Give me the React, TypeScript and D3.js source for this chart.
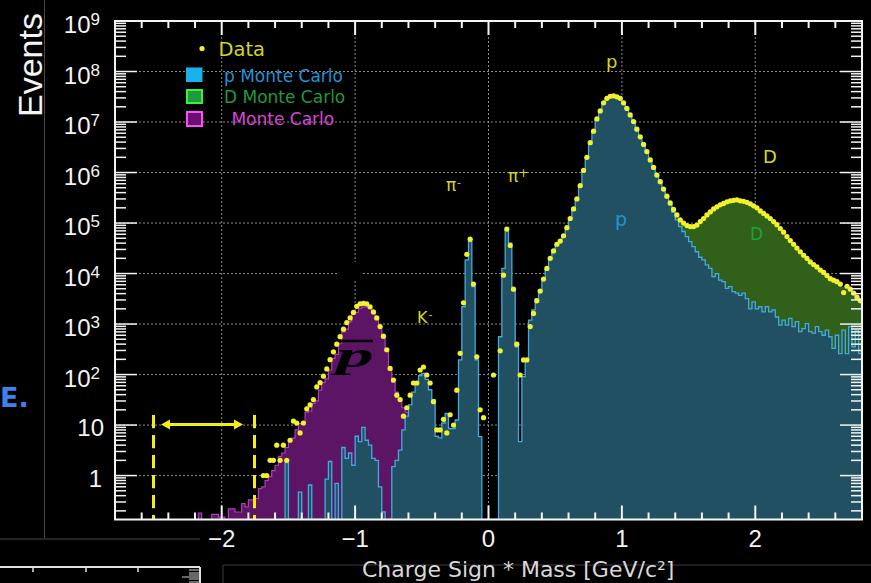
import React, { useEffect } from 'react';
import * as d3 from 'd3';

// ---- axes ----
const X_DOMAIN: [number, number] = [-2.8, 2.8];
const Y_DOMAIN: [number, number] = [0.135, 1e9];
const BIN_WIDTH = 0.025;
const xMajorTicks = [-2, -1, 0, 1, 2];
const xTickLabels = ['\u22122', '\u22121', '0', '1', '2'];
const yDecades = [0, 1, 2, 3, 4, 5, 6, 7, 8, 9];

// ---- data (events per 0.025 GeV/c^2 bin) ----
// first bin index counted from -2.8
const dataFirstBin = 44;
const dataEvents = [
  1, 1, 2, 2, 4, 2, 4, 2, 5, 12,
  11, 7, 11, 21, 25, 32, 57, 69, 93, 129,
  197, 282, 400, 562, 790, 1070, 1320, 1700, 2240, 2510,
  2570, 2510, 2190, 1740, 1320, 890, 575, 310, 132, 78,
  39, 32, 15, 22, 39, 68, 68, 123, 141, 98,
  68, 29, 8, 8, 13, 7, 16, 10, 49, 263,
  2630, 24000, 48000, 6200, 224, 20, 14, 0, 0, 98,
  0, 295, 9300, 76000, 36000, 4900, 400, 98, 195, 195,
  890, 1620, 2880, 4500, 7760, 12600, 20000, 28000, 38000, 44000,
  56000, 81000, 123000, 190000, 300000, 550000, 1.1e6, 2.0e6, 3.9e6, 6.6e6,
  1.15e7, 1.66e7, 2.4e7, 2.95e7, 3.24e7, 3.3e7, 3.16e7, 2.95e7, 2.4e7, 1.86e7,
  1.38e7, 1.02e7, 7.2e6, 5.1e6, 3.6e6, 2.6e6, 1.78e6, 1.26e6, 890000, 660000,
  470000, 340000, 250000, 186000, 145000, 115000, 100000, 89000, 85000, 85000,
  91000, 107000, 123000, 145000, 166000, 190000, 209000, 229000, 245000, 263000,
  275000, 282000, 288000, 275000, 269000, 257000, 240000, 219000, 200000, 174000,
  155000, 138000, 123000, 107000, 93000, 78000, 66000, 54000, 45000, 38000,
  32000, 27000, 23000, 20000, 17000, 15100, 13500, 11700, 10500, 9100,
  7900, 7400, 6900, 6200, 4200, 5600, 4900, 4100, 3400, 2900,
];

const pbarFirstBin = 25;
const pbarMC = [
  0.18, 0, 0, 0, 0.17, 0.17, 0.15, 0.15, 0, 0.22,
  0.22, 0.19, 0.19, 0.28, 0.24, 0.33, 0.33, 0.35, 0.55, 0.6,
  0.8, 0.95, 1.25, 1.6, 2.4, 2.8, 3.6, 4.7, 5.5, 8,
  10.7, 11.5, 18, 19, 27, 30, 49, 70, 82, 123,
  210, 250, 417, 700, 790, 1120, 1550, 1700, 2040, 2190,
  2190, 2040, 1650, 1250, 850, 520, 290, 125, 70, 45,
  30, 22, 18, 6, 1.6,
];

const pFirstBin = 51;
const pMC = [
  1.8, 0, 0, 0, 0.47, 0, 0, 0.65, 0, 0,
  0, 0, 0.85, 1.9, 0, 0.7, 0, 3.6, 2.2, 2.8,
  1.6, 6.0, 4.7, 9, 5, 4.0, 2.2, 2.0, 0.6, 0.19,
  0, 0, 1.5, 2.0, 3.2, 8, 15, 25, 45, 70,
  95, 105, 80, 50, 32, 6, 5.6, 11, 17, 8.5,
  8.5, 12.6, 195, 2200, 18600, 42700, 5500, 195, 5.9, 0,
  0, 0, 0, 0, 560, 12600, 72000, 40000, 4700, 355,
  4.7, 91, 195, 1200, 1900, 3200, 4700, 7500, 12000, 19000,
  27000, 36000, 42000, 54000, 78000, 118000, 182000, 290000, 530000, 1.05e6,
  1.9e6, 3.7e6, 6.3e6, 1.1e7, 1.6e7, 2.3e7, 2.85e7, 3.1e7, 3.15e7, 3.05e7,
  2.85e7, 2.3e7, 1.8e7, 1.32e7, 9.8e6, 6.9e6, 4.9e6, 3.45e6, 2.5e6, 1.7e6,
  1.2e6, 850000, 630000, 450000, 318000, 230000, 162000, 115000, 85000, 68000,
  54000, 43000, 34000, 27000, 21000, 18600, 14800, 12600, 8700, 10000,
  7400, 6900, 5100, 5500, 4400, 4100, 3700, 4100, 3200, 2000,
  2750, 2000, 2200, 1740, 2200, 1740, 1900, 1380, 950, 1200,
  950, 1290, 890, 1120, 710, 810, 1020, 710, 660, 890,
  710, 600, 760, 560, 330, 600, 260, 760, 260, 890,
  355, 760, 260,
];

const dFirstBin = 164;
const dMC = [
  18000, 21000, 21000, 24000, 30000, 30000, 32000, 35000, 42000, 51000,
  64000, 86000, 104000, 130000, 153000, 181000, 199000, 222000, 238000, 258000,
  270000, 278000, 284000, 271000, 265000, 254000, 238000, 216000, 198000, 172000,
  153000, 136000, 121000, 105000, 92000, 77000, 65000, 53000, 44000, 37000,
  31000, 26300, 22200, 19000, 16300, 14400, 12600, 11000, 9900, 8300,
  7300, 7100, 6300, 5900, 4700, 5300, 4000, 3700, 2600, 2600,
];

const legendItems = ['Data', 'p Monte Carlo', 'D Monte Carlo', ' Monte Carlo'];

const COLORS = {
  bg: '#000000',
  teal: '#215063',
  tealLine: '#45aadb',
  purple: '#5c1465',
  purpleLine: '#b03cc0',
  green: '#30601a',
  data: '#f2f22a',
  yellowText: '#d6d61e',
  grid: '#8a8a8a',
};

const FRAME = { left: 115, right: 862, top: 21, bottom: 519.5 };

export default function App() {
  useEffect(() => {
    document.body.style.margin = '0';
    document.body.style.background = '#000';
  }, []);

  const x = d3.scaleLinear().domain(X_DOMAIN).range([FRAME.left, FRAME.right]);
  const y = d3.scaleLog().domain(Y_DOMAIN).range([FRAME.bottom, FRAME.top]);
  const yBottom = FRAME.bottom;
  const edge = (i: number) => x(X_DOMAIN[0] + BIN_WIDTH * i);
  const center = (i: number) => X_DOMAIN[0] + BIN_WIDTH * (i + 0.5);
  const yc = (v: number) => (v > Y_DOMAIN[0] ? y(v) : yBottom);

  const stepPaths = (first: number, vals: number[]) => {
    const p = d3.path();
    p.moveTo(edge(first), yBottom);
    vals.forEach((v, k) => {
      const yy = yc(v);
      p.lineTo(edge(first + k), yy);
      p.lineTo(edge(first + k + 1), yy);
    });
    p.lineTo(edge(first + vals.length), yBottom);
    const line = p.toString();
    return { line, area: line + 'Z' };
  };

  const pbarP = stepPaths(pbarFirstBin, pbarMC);
  const pP = stepPaths(pFirstBin, pMC);
  const dTotals = dMC.map((d, k) => d + pMC[dFirstBin - pFirstBin + k]);
  const dP = stepPaths(dFirstBin, dTotals);

  const xMinor = d3.range(-2.6, 2.8, 0.2).filter((v) => Math.abs(v - Math.round(v)) > 0.05);
  const yMinor: number[] = [];
  for (let d = -1; d <= 8; d++) for (let m = 2; m <= 9; m++) {
    const v = m * Math.pow(10, d);
    if (v > Y_DOMAIN[0] && v < Y_DOMAIN[1]) yMinor.push(v);
  }

  const tickFont = 'Liberation Sans, Arial, Helvetica, sans-serif';
  const sans = 'DejaVu Sans, Verdana, sans-serif';

  return (
    <svg width={871} height={583} style={{ position: 'absolute', left: 0, top: 0, display: 'block' }}>
      <rect x={0} y={0} width={871} height={583} fill={COLORS.bg} />

      {/* background slide artifacts */}
      <line x1={44.5} y1={0} x2={44.5} y2={538} stroke="#4a4a4a" strokeWidth={1} />
      <line x1={0} y1={539} x2={200} y2={539} stroke="#4a4a4a" strokeWidth={1} />
      <line x1={223} y1={565} x2={871} y2={565} stroke="#3c3c3c" strokeWidth={1} />
      <line x1={223} y1={565} x2={223} y2={583} stroke="#3c3c3c" strokeWidth={1} />
      <text x={0} y={407} fill="#3b82ee" fontFamily={sans} fontWeight="bold" fontSize={27}>E.</text>
      <line x1={0} y1={567} x2={200} y2={567} stroke="#e0e0e0" strokeWidth={2} />
      <line x1={200} y1={567} x2={200} y2={583} stroke="#e0e0e0" strokeWidth={2} />
      {[33, 86, 138].map((t) => (
        <line key={t} x1={t} y1={567} x2={t} y2={572} stroke="#e0e0e0" strokeWidth={1.5} />
      ))}
      {[570, 573, 575, 577, 579, 582].map((t, i) => (
        <line key={t} x1={i === 3 ? 182 : 189} y1={t} x2={200} y2={t} stroke="#d0d0d0" strokeWidth={1} />
      ))}

      {/* grid */}
      <g stroke={COLORS.grid} strokeWidth={1} strokeDasharray="2 2">
        {xMajorTicks.map((v) => (
          <line key={'gx' + v} x1={x(v)} x2={x(v)} y1={FRAME.top} y2={FRAME.bottom} />
        ))}
        {yDecades.slice(0, 9).map((d) => (
          <line key={'gy' + d} x1={FRAME.left} x2={FRAME.right} y1={y(Math.pow(10, d))} y2={y(Math.pow(10, d))} />
        ))}
      </g>
      <rect x={337} y={262} width={25} height={18} fill="#000" />

      <defs>
        <clipPath id="plotClip">
          <rect x={FRAME.left} y={FRAME.top} width={FRAME.right - FRAME.left} height={FRAME.bottom - FRAME.top} />
        </clipPath>
      </defs>

      <g clipPath="url(#plotClip)">
        <path d={pbarP.area} fill={COLORS.purple} />
        <path d={pbarP.line} fill="none" stroke={COLORS.purpleLine} strokeWidth={1.2} />
        <path d={dP.area} fill={COLORS.green} />
        <path d={pP.area} fill={COLORS.teal} />
        <path d={pP.line} fill="none" stroke={COLORS.tealLine} strokeWidth={1.3} />
      </g>

      {/* pbar label */}
      <line x1={340} y1={341} x2={373} y2={341} stroke="#000" strokeWidth={2.5} />
      <text
        x={0}
        y={0}
        transform="translate(336,367) scale(2.1,1)"
        fontFamily="Liberation Serif, Times New Roman, serif"
        fontStyle="italic"
        fontWeight="bold"
        fontSize={36}
        fill="#000"
      >
        p
      </text>

      {/* annotations */}
      <g fontFamily={sans}>
        <text x={606} y={68} fontSize={18} fill={COLORS.yellowText}>p</text>
        <text x={763} y={163} fontSize={18} fill={COLORS.yellowText}>D</text>
        <text x={446} y={191} fontSize={17} fill={COLORS.yellowText}>π</text>
        <text x={457} y={186} fontSize={11} fill={COLORS.yellowText}>-</text>
        <text x={508} y={182} fontSize={17} fill={COLORS.yellowText}>π</text>
        <text x={518.5} y={177} fontSize={12} fill={COLORS.yellowText}>+</text>
        <text x={417} y={323} fontSize={16} fill={COLORS.yellowText}>K</text>
        <text x={428.5} y={318} fontSize={11} fill={COLORS.yellowText}>-</text>
        <text x={615} y={226} fontSize={19} fill="#1e96d2">p</text>
        <text x={750} y={240} fontSize={17} fill="#22a03a">D</text>
      </g>

      {/* data points */}
      <g fill={COLORS.data}>
        {dataEvents.map((v, k) =>
          v > 0 ? <circle key={k} cx={x(center(dataFirstBin + k))} cy={y(v)} r={2.6} /> : null
        )}
      </g>

      {/* yellow range markers */}
      <g stroke="#f2ee10" strokeWidth={3} strokeDasharray="13.3 6.7">
        <line x1={153.5} x2={153.5} y1={415} y2={FRAME.bottom} />
        <line x1={254.5} x2={254.5} y1={415} y2={FRAME.bottom} />
      </g>
      <line x1={168} x2={236} y1={424.5} y2={424.5} stroke="#f2ee10" strokeWidth={3} />
      <path d="M161,424.5 L170,419.5 L170,429.5 Z" fill="#f2ee10" />
      <path d="M243,424.5 L234,419.5 L234,429.5 Z" fill="#f2ee10" />

      {/* frame and ticks */}
      <rect
        x={FRAME.left}
        y={FRAME.top}
        width={FRAME.right - FRAME.left}
        height={FRAME.bottom - FRAME.top}
        fill="none"
        stroke="#f4f4f4"
        strokeWidth={2}
      />
      <g stroke="#f4f4f4" strokeWidth={2}>
        {xMajorTicks.map((v) => (
          <g key={'xt' + v}>
            <line x1={x(v)} x2={x(v)} y1={FRAME.bottom} y2={FRAME.bottom - 14} />
            <line x1={x(v)} x2={x(v)} y1={FRAME.top} y2={FRAME.top + 14} />
          </g>
        ))}
        {xMinor.map((v) => (
          <g key={'xm' + v.toFixed(2)}>
            <line x1={x(v)} x2={x(v)} y1={FRAME.bottom} y2={FRAME.bottom - 7} />
            <line x1={x(v)} x2={x(v)} y1={FRAME.top} y2={FRAME.top + 7} />
          </g>
        ))}
      </g>
      <g stroke="#f4f4f4" strokeWidth={1.5}>
        {yDecades.slice(0, 9).map((d) => (
          <g key={'yt' + d}>
            <line x1={FRAME.left} x2={FRAME.left + 22} y1={y(Math.pow(10, d))} y2={y(Math.pow(10, d))} />
            <line x1={FRAME.right} x2={FRAME.right - 22} y1={y(Math.pow(10, d))} y2={y(Math.pow(10, d))} />
          </g>
        ))}
        {yMinor.map((v, i) => (
          <g key={'ym' + i}>
            <line x1={FRAME.left} x2={FRAME.left + 11} y1={y(v)} y2={y(v)} />
            <line x1={FRAME.right} x2={FRAME.right - 11} y1={y(v)} y2={y(v)} />
          </g>
        ))}
      </g>

      {/* tick labels */}
      <g fill="#f4f4f4" fontFamily={tickFont}>
        {xMajorTicks.map((v, i) => (
          <text key={'xl' + v} x={x(v)} y={547} fontSize={24} textAnchor="middle">
            {xTickLabels[i]}
          </text>
        ))}
        {yDecades.map((d) => {
          const ty = y(Math.pow(10, d));
          if (d === 0)
            return (
              <text key={'yl' + d} x={102} y={ty + 11} fontSize={24} textAnchor="end">1</text>
            );
          if (d === 1)
            return (
              <text key={'yl' + d} x={104} y={ty + 10.5} fontSize={24} textAnchor="end">10</text>
            );
          return (
            <g key={'yl' + d}>
              <text x={90.5} y={ty + 12} fontSize={24} textAnchor="end">10</text>
              <text x={90.5} y={ty + 4} fontSize={17} textAnchor="start">{d}</text>
            </g>
          );
        })}
      </g>

      {/* axis titles */}
      <text
        transform="translate(42,65) rotate(-90)"
        textAnchor="middle"
        fontFamily={tickFont}
        fontSize={34}
        fill="#f4f4f4"
      >
        Events
      </text>
      <text x={362} y={577} fontFamily={sans} fontSize={22} fill="#d8d8d8">
        Charge Sign * Mass [GeV/c²]
      </text>

      {/* legend */}
      <g fontFamily={sans}>
        <circle cx={202} cy={48.5} r={2.6} fill={COLORS.data} />
        <text x={218.5} y={56} fontSize={19.5} fill={COLORS.yellowText}>{legendItems[0]}</text>
        <rect x={186} y={67.5} width={16.5} height={14.5} fill="#1ab2ec" />
        <text x={224} y={81.5} fontSize={17} fill="#1d95d4">{legendItems[1]}</text>
        <rect x={187} y={90} width={15} height={13} fill="#1c9a3c" stroke="#3bef3b" strokeWidth={2} />
        <text x={224} y={103} fontSize={17} fill="#1f9a3e">{legendItems[2]}</text>
        <rect x={187} y={112} width={15} height={14} fill="#6a0f6e" stroke="#ff4cff" strokeWidth={2} />
        <text x={226} y={125} fontSize={17} fill="#d745d7" style={{ whiteSpace: 'pre' }}>{legendItems[3]}</text>
      </g>
    </svg>
  );
}
